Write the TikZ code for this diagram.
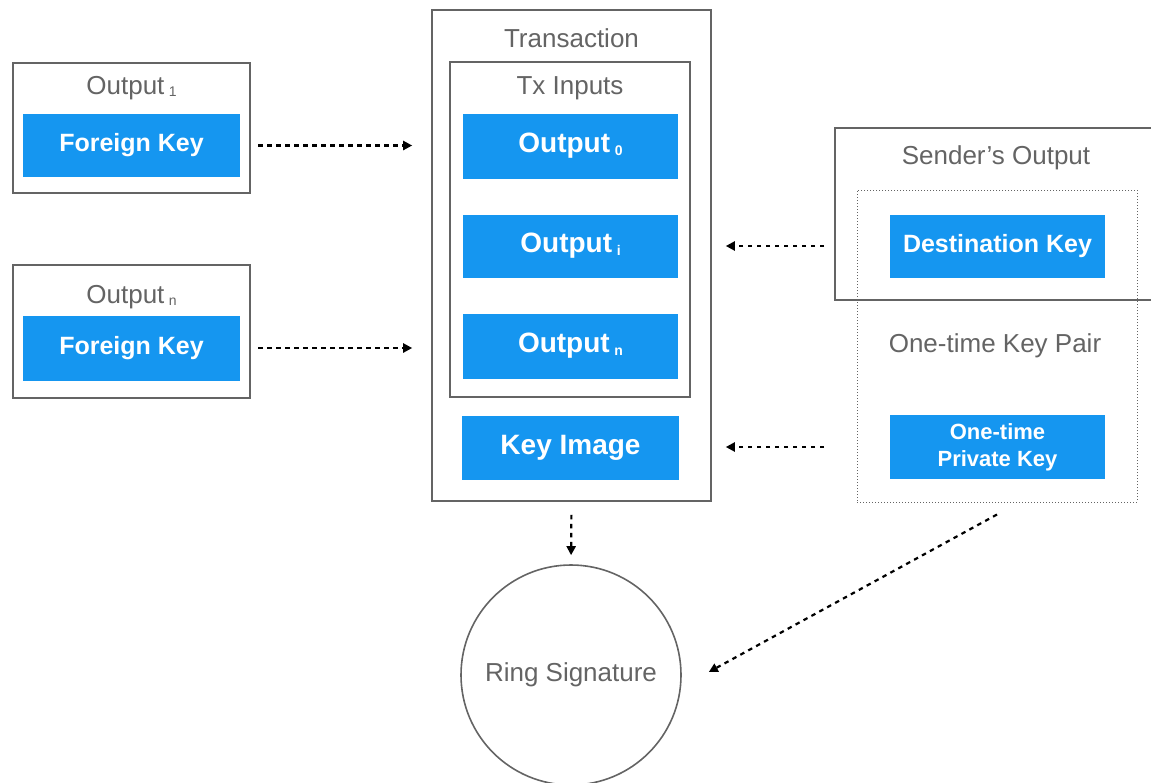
\documentclass[tikz,border=0pt]{standalone}
\usepackage{fontspec}
\setmainfont{Liberation Sans}
\usetikzlibrary{arrows.meta}

\definecolor{keyblue}{RGB}{21,150,240}
\definecolor{titlegray}{RGB}{100,100,100}
\definecolor{linegray}{RGB}{100,100,100}

\newcommand{\idx}[1]{\,\raisebox{-0.15ex}{\fontsize{14}{14}\selectfont #1}}

\tikzset{
    container/.style={draw=linegray, line width=1.6pt, inner sep=0pt},
    title/.style={text=titlegray, font=\fontsize{26}{30}\selectfont},
    keybox/.style={fill=keyblue, text=white, inner sep=0pt, align=center,
        font=\bfseries\fontsize{25}{30}\selectfont},
    bigkey/.style={keybox, font=\bfseries\fontsize{28}{32}\selectfont},
    flow/.style={line width=2.2pt, dash pattern=on 4.5pt off 4.5pt,
        -{Triangle[length=9pt,width=9pt]}}
}

\begin{document}
\begin{tikzpicture}[x=1pt,y=-1pt]
        \useasboundingbox (0,0) rectangle (1151,782);

        % Foreign outputs on the left
        \node[container, minimum width=237pt, minimum height=130pt] (out1) at (131.5,128) {};
        \node[title] (out1title) at (131.5,88) {Output\idx{1}};
        \node[keybox, minimum width=217pt, minimum height=63pt] (key1) at (131.5,145.5) {Foreign Key};

        \node[container, minimum width=237pt, minimum height=133pt] (outn) at (131.5,331.5) {};
        \node[title] (outntitle) at (131.5,297) {Output\idx{n}};
        \node[keybox, minimum width=217pt, minimum height=65pt] (keyn) at (131.5,348) {Foreign Key};

        % The transaction with its inputs
        \node[container, minimum width=279pt, minimum height=491pt] (tx) at (571.5,255.5) {};
        \node[title] (txtitle) at (571.5,38) {Transaction};
        \node[container, minimum width=240pt, minimum height=335pt] (inputs) at (570,229.5) {};
        \node[title] (inputstitle) at (570,88) {Tx Inputs};
        \node[bigkey, minimum width=215pt, minimum height=65pt] (in0) at (570.5,146) {Output\idx{0}};
        \node[bigkey, minimum width=215pt, minimum height=63pt] (ini) at (570.5,246) {Output\idx{i}};
        \node[bigkey, minimum width=215pt, minimum height=65pt] (inn) at (570.5,346) {Output\idx{n}};
        \node[bigkey, minimum width=217pt, minimum height=64pt] (keyimg) at (570.5,447.5) {Key Image};

        % Ring signature
        \node[circle, draw=linegray, line width=1.6pt, minimum size=220pt, title] (ring) at (571,675) {Ring Signature};

        % Sender's output and the one-time key pair
        \node[container, minimum width=335pt, minimum height=172pt] (send) at (1002.5,214) {};
        \node[title] (sendtitle) at (996,158) {Sender's Output};
        \node[draw=linegray, line width=1pt, dotted, minimum width=280pt, minimum height=312pt] (pair) at (997,346) {};
        \node[title] (pairtitle) at (995,346) {One-time Key Pair};
        \node[keybox, minimum width=215pt, minimum height=63pt] (dest) at (997.5,246) {Destination Key};
        \node[keybox, font=\bfseries\fontsize{22}{27}\selectfont, minimum width=215pt, minimum height=64pt] (priv) at (997.5,447) {One-time\\Private Key};

        % Arrows
        \draw[flow, shorten <=18pt, shorten >=19pt] (key1.east) -- (key1.east -| tx.west);
        \draw[flow, shorten <=18pt, shorten >=19pt] (keyn.east) -- (keyn.east -| tx.west);
        \draw[flow, shorten <=10pt, shorten >=14pt] (dest -| send.west) -- (dest -| tx.east);
        \draw[flow, shorten <=10pt, shorten >=14pt] (priv -| send.west) -- (priv -| tx.east);
        \draw[flow, shorten <=13pt, shorten >=9pt] (tx.south) -- (ring.north);
        \draw[flow] ([yshift=-12pt]pair.south) -- ([shift={(27,-3)}]ring.east);

        \end{tikzpicture}
\end{document}
